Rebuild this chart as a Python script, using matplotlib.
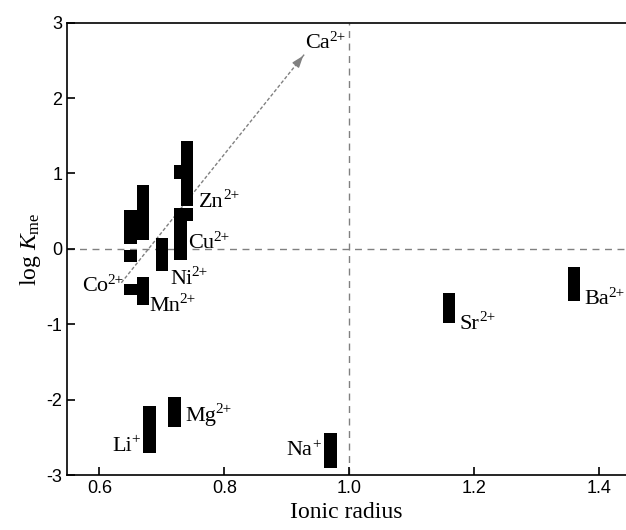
import matplotlib
matplotlib.use("Agg")
import matplotlib.pyplot as plt

plt.rcParams['font.family'] = 'Liberation Serif'
plt.rcParams['mathtext.fontset'] = 'custom'
plt.rcParams['mathtext.rm'] = 'Liberation Serif'
plt.rcParams['mathtext.it'] = 'Liberation Serif:italic'
plt.rcParams['axes.unicode_minus'] = False

# floating bars: ionic radius, low and high log K
bar_x = [0.65, 0.65, 0.67, 0.70, 0.73, 0.73, 0.74, 0.74, 0.65, 0.67,
         0.68, 0.72, 0.97, 1.16, 1.36]
bar_lo = [0.07, -0.17, 0.12, -0.30, 0.93, -0.15, 0.57, 0.37, -0.61, -0.75,
          -2.71, -2.36, -2.91, -0.98, -0.69]
bar_hi = [0.51, -0.02, 0.85, 0.14, 1.11, 0.54, 1.43, 0.54, -0.46, -0.37,
          -2.08, -1.97, -2.44, -0.58, -0.24]

# ion labels (element, charge)
ion_names = ['Ca', 'Zn', 'Cu', 'Ni', 'Co', 'Mn', 'Li', 'Mg', 'Na', 'Sr', 'Ba']
ion_charge = ['2+', '2+', '2+', '2+', '2+', '2+', '+', '2+', '+', '2+', '2+']
ion_x = [0.93, 0.76, 0.742, 0.713, 0.572, 0.68, 0.62, 0.737, 0.90, 1.177, 1.376]
ion_y = [2.72, 0.62, 0.07, -0.40, -0.50, -0.76, -2.62, -2.22, -2.68, -1.00, -0.67]

arrow_start = (0.635, -0.45)
arrow_end = (0.929, 2.59)

fig = plt.figure(figsize=(6.26, 5.30), dpi=100)
ax = fig.add_axes([67/626, 55/530, 559/626, 452.3/530])

heights = [h - l for h, l in zip(bar_hi, bar_lo)]
ax.bar(bar_x, heights, bottom=bar_lo, width=0.02, color='black', zorder=3)

# reference lines
ax.axhline(0, color='gray', linestyle=(0, (5, 4)), linewidth=1, zorder=1)
ax.axvline(1.0, color='gray', linestyle=(0, (5, 4)), linewidth=1, zorder=1)

# trend arrow
ax.plot([arrow_start[0], arrow_end[0]], [arrow_start[1], arrow_end[1]],
        color='gray', linestyle=(0, (2.5, 1.5)), linewidth=1, zorder=2)
dx = arrow_end[0] - arrow_start[0]
dy = arrow_end[1] - arrow_start[1]
ax.annotate('', xy=arrow_end, xytext=(arrow_end[0] - 0.03 * dx, arrow_end[1] - 0.03 * dy),
            arrowprops=dict(arrowstyle='-|>,head_length=0.7,head_width=0.25',
                            color='gray', lw=1), zorder=2)

# element symbol, then charge as a small raised text right after it
for name, q, x, y in zip(ion_names, ion_charge, ion_x, ion_y):
    t = ax.text(x, y, name, fontsize=16, ha='left', va='center', zorder=4)
    ax.annotate(q, xy=(1, 1), xycoords=t, xytext=(-0.5, -7), textcoords='offset points',
                fontsize=11, ha='left', va='bottom', zorder=4)

ax.set_xlim(0.548, 1.443)
ax.set_ylim(-3, 3)
ax.set_xticks([0.6, 0.8, 1.0, 1.2, 1.4])
ax.set_yticks([-3, -2, -1, 0, 1, 2, 3])
ax.tick_params(direction='in', length=6, width=1.2, labelsize=13)
for lab in ax.get_xticklabels() + ax.get_yticklabels():
    lab.set_family('Liberation Sans')
ax.spines['right'].set_visible(False)
for s in ['left', 'bottom', 'top']:
    ax.spines[s].set_linewidth(1.2)

ax.set_xlabel('Ionic radius', fontsize=17, labelpad=4)
ax.set_ylabel(r'log $K_{\rm me}$', fontsize=17, labelpad=2)

fig.savefig('out.png', dpi=100)
